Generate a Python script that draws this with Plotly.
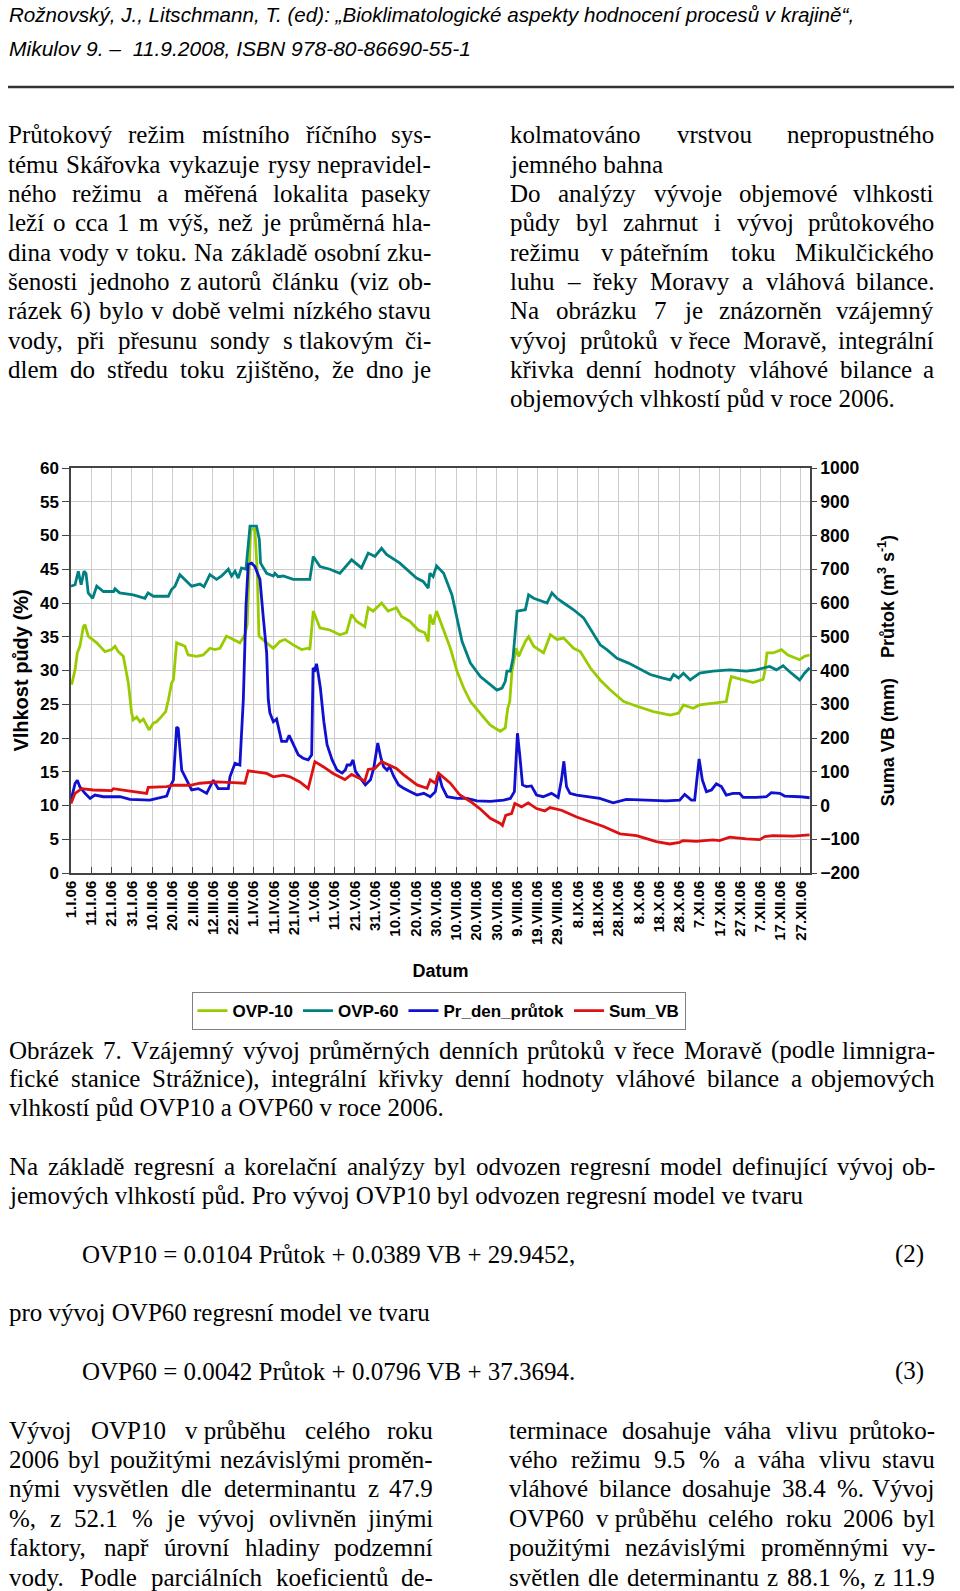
import unicodedata
import plotly.graph_objects as go

# ---------------- data ----------------
tick_days = list(range(0, 361, 10))
tick_labels = ["1.I.06", "11.I.06", "21.I.06", "31.I.06", "10.II.06", "20.II.06", "2.III.06",
               "12.III.06", "22.III.06", "1.IV.06", "11.IV.06", "21.IV.06", "1.V.06", "11.V.06",
               "21.V.06", "31.V.06", "10.VI.06", "20.VI.06", "30.VI.06", "10.VII.06", "20.VII.06",
               "30.VII.06", "9.VIII.06", "19.VIII.06", "29.VIII.06", "8.IX.06", "18.IX.06",
               "28.IX.06", "8.X.06", "18.X.06", "28.X.06", "7.XI.06", "17.XI.06", "27.XI.06",
               "7.XII.06", "17.XII.06", "27.XII.06"]

# OVP-10 soil moisture (%), day of year 2006 (0 = 1.I.)
ovp10_day = [0.3, 2, 3.1, 4.4, 6.1, 6.9, 8.5, 12.7, 16.8, 20, 21.7, 23.3, 25.8, 27.4, 28.3, 29.9, 30.7,
             32.4, 34, 35.7, 38.5, 40.6, 42.2, 44.7, 46.7, 48, 49.6, 50.5, 52.1, 54.6, 56.2, 57.8, 62,
             65.2, 68.5, 71, 73.5, 76.7, 80, 83.3, 85.8, 86.9, 88.6, 90.7, 91.9, 92.7, 96.5, 99.8, 103,
             105.5, 109.6, 113.7, 117, 117.8, 119.5, 122.8, 127.7, 132.6, 135.9, 138.4, 140.8, 144.9,
             146.6, 149, 153.2, 156.4, 160.5, 163, 167.1, 171.2, 174.5, 176.2, 177, 178.6, 180.3,
             183.8, 187.1, 190.4, 193.7, 197, 201.9, 206.8, 211.7, 214.2, 215.4, 216.4, 217.5, 219.6,
             220.8, 224.1, 225.7, 228.2, 233.1, 236.4, 239.7, 243, 247.9, 251.2, 256.1, 261, 266,
             272.6, 279.1, 287.3, 295.6, 299.7, 302.1, 306.8, 310.1, 316.7, 323.2, 324.9, 325.7,
             331.5, 336.4, 341.4, 342.2, 343.3, 346.3, 350.4, 353.6, 359.4, 361.8, 364.3]
ovp10_val = [27.9, 30.1, 32.6, 33.6, 36.5, 36.8, 35.1, 34.1, 32.8, 33.1, 33.6, 32.8, 32.1, 29.6, 28.1,
             23.7, 22.7, 23.1, 22.4, 22.8, 21.2, 22.2, 22.4, 23.2, 23.9, 25.6, 28.1, 28.6, 34.1, 33.8,
             33.6, 32.3, 32.1, 32.3, 33.3, 33.1, 33.3, 35.1, 34.6, 34.1, 35.3, 36.8, 50.9, 50.9, 44.4,
             35.1, 34.1, 33.3, 34.3, 34.6, 33.8, 33.1, 33.3, 33.1, 38.8, 36.3, 36.0, 35.3, 35.6, 38.3,
             37.3, 36.5, 39.3, 38.8, 40.0, 38.8, 39.3, 38.0, 37.3, 36.0, 35.6, 34.3, 38.3, 36.8, 38.8,
             36.0, 33.3, 29.9, 27.4, 25.4, 23.7, 21.9, 21.0, 21.5, 24.4, 25.4, 29.9, 33.3, 32.1, 34.3,
             35.0, 33.6, 32.6, 35.3, 34.6, 34.8, 33.3, 32.8, 30.4, 28.6, 27.1, 25.4, 24.7, 23.9, 23.4,
             23.7, 24.9, 24.4, 24.9, 25.1, 25.4, 28.1, 29.1, 28.6, 28.2, 28.7, 29.9, 32.6, 32.6, 33.1,
             32.3, 31.6, 32.1, 32.3]

# OVP-60 soil moisture (%)
ovp60_day = [0, 2, 3.6, 5, 6.4, 7.4, 8.5, 10.7, 12.7, 16, 21, 21.7, 24, 30.7, 36.5, 38, 40.6, 48, 49.6,
             51.3, 53.7, 57, 59.5, 63.6, 65.6, 68.5, 71.8, 74.3, 77.6, 79.2, 80.9, 82.5, 84.1, 86.3,
             88.3, 91.5, 92.9, 93.5, 96.5, 99.8, 100.6, 102.2, 104.7, 109.6, 117.8, 119.5, 122.8,
             127.7, 132.6, 138.4, 143.3, 146.6, 149.9, 153.2, 155.6, 162.2, 170.4, 173.7, 176.2, 177,
             178.6, 180.3, 183.8, 187.9, 190.4, 192.9, 197, 201.9, 206.8, 210.1, 212.6, 214.2, 215,
             216.7, 218, 220, 224.1, 225.7, 228.2, 234.8, 237.2, 239.7, 243, 247.9, 252.8, 257.8, 261,
             264.3, 269.3, 275, 279.1, 285.7, 291.5, 295.6, 297.2, 299.7, 302.1, 305.4, 310.1, 316.7,
             324.9, 333.1, 338, 344.6, 347.9, 351.2, 355.3, 359.4, 361.8, 364.3]
ovp60_val = [42.5, 42.7, 44.7, 42.7, 44.7, 44.4, 41.5, 40.7, 42.5, 41.7, 41.7, 42.1, 41.5, 41.2, 40.7,
             41.5, 41.0, 41.0, 42.0, 42.5, 44.2, 43.2, 42.5, 42.8, 42.4, 44.2, 43.5, 44.0, 45.0, 44.0,
             44.7, 43.7, 45.2, 45.0, 51.4, 51.4, 49.4, 45.9, 44.4, 44.0, 44.4, 43.9, 44.0, 43.5, 43.5,
             46.9, 45.4, 45.0, 44.4, 46.4, 45.2, 47.4, 46.9, 48.1, 47.2, 45.9, 43.7, 43.2, 42.2, 44.4,
             43.9, 45.5, 44.4, 41.2, 37.8, 34.3, 31.1, 29.1, 27.9, 27.1, 27.4, 28.4, 29.9, 29.9, 31.8,
             38.8, 39.0, 41.2, 40.7, 40.0, 41.5, 40.7, 40.0, 39.0, 37.8, 35.3, 33.8, 33.1, 31.8, 31.1,
             30.4, 29.4, 28.9, 28.6, 29.4, 28.9, 29.6, 28.6, 29.6, 29.9, 30.1, 29.9, 30.1, 30.6, 30.1,
             30.7, 29.6, 28.6, 29.6, 30.4]

# Pr_den_průtok - mean daily discharge (m3/s), right axis
flow_day = [0, 2, 3.1, 4.4, 6.9, 9.4, 11.8, 15.9, 24.2, 29.1, 38.9, 43.9, 47.2, 48.8, 50.5, 52.1, 52.9,
            54.6, 56.2, 57.8, 59.5, 62.8, 66.9, 70.2, 72.6, 77.6, 78.4, 80.9, 83.3, 85, 86.3, 87.4,
            89.1, 90.7, 93.2, 94.8, 96.5, 97.3, 98.1, 99.8, 101.4, 103.9, 106.3, 107.6, 109.6, 112.1,
            114.5, 117, 118.7, 119.4, 120.3, 121.1, 121.9, 123, 124.7, 126.3, 128.8, 131.2, 133.7,
            135.3, 136.2, 137.8, 139.1, 140.3, 142.7, 145.2, 147.7, 149.3, 151.3, 152.9, 154.2, 155.9,
            157.2, 159.2, 161.6, 164.1, 167.4, 170.7, 174, 177.2, 179.7, 181.3, 183, 185.5, 190.4,
            195.3, 200.2, 206.8, 213.4, 216.7, 218.7, 220.2, 221.4, 222.7, 224.6, 227.1, 229.6, 232.9,
            237, 240.3, 241.9, 243.1, 244.4, 246.1, 249.4, 254.3, 260.8, 267.4, 273.9, 283.8, 293.6,
            300.2, 302.7, 306, 307.6, 309.8, 311.4, 313.4, 315.9, 318.3, 320.8, 323.2, 326.5, 329.8,
            331.5, 338, 343, 345.4, 349.6, 352, 356.1, 359.4, 364.3]
flow_val = [16, 65, 75, 55, 36, 21, 31, 26, 26, 18, 16, 24, 28, 55, 75, 232, 228, 105, 85, 70, 46, 50,
            36, 75, 50, 50, 85, 125, 120, 314, 590, 714, 718, 708, 670, 560, 452, 314, 274, 248, 256,
            190, 190, 208, 184, 150, 140, 135, 150, 407, 402, 420, 392, 348, 249, 180, 135, 105, 96,
            105, 120, 120, 135, 101, 81, 61, 76, 110, 185, 140, 115, 105, 115, 86, 61, 51, 41, 31, 36,
            26, 41, 96, 56, 26, 21, 21, 14, 12, 16, 21, 41, 214, 146, 61, 56, 58, 31, 26, 36, 24, 76,
            131, 56, 36, 31, 26, 21, 8, 18, 16, 14, 16, 33, 16, 16, 138, 76, 41, 46, 64, 56, 31, 36,
            36, 24, 24, 26, 38, 36, 28, 28, 26, 23]

# Sum_VB - integral curve of daily water balance (mm), right axis
vb_day = [0, 2, 5.3, 11, 20, 20.9, 27.4, 37.3, 38.1, 47.2, 50.5, 58.7, 63.6, 71.8, 80, 85.8, 87.4, 91.5,
          96.5, 99.8, 104.7, 108, 112.9, 117, 120.3, 124.4, 129.3, 135.1, 138.4, 142.5, 144.9, 146.6,
          149.9, 153.2, 160.5, 164.1, 170.7, 175.6, 177.2, 179.7, 181.3, 187.1, 191.8, 197, 201.6,
          206.8, 211.7, 212.8, 214.4, 217.3, 218.9, 222.2, 225.5, 229.6, 233.7, 236.2, 241.9, 249.4,
          256.1, 262.7, 270.8, 279, 288.7, 295.3, 300.2, 301.8, 308.4, 316.6, 319.9, 324.9, 333.1,
          339.7, 342.2, 346.3, 356.1, 361, 364.3]
vb_val = [6, 36, 50, 46, 44, 50, 44, 36, 54, 56, 60, 60, 66, 70, 68, 66, 103, 100, 95, 85, 90, 85, 70,
          50, 130, 115, 95, 77, 92, 80, 72, 107, 110, 130, 110, 91, 61, 51, 76, 66, 96, 66, 31, 12, -9,
          -38, -53, -59, -29, -24, 6, -4, 8, -9, -16, -6, -14, -34, -48, -62, -84, -89, -107, -114,
          -109, -104, -106, -102, -104, -94, -99, -101, -92, -89, -91, -89, -87]

series_names = ["OVP-10", "OVP-60", "Pr_den_průtok", "Sum_VB"]

# ---------------- page text ----------------
header_lines = ["Rožnovský, J., Litschmann, T. (ed): „Bioklimatologické aspekty hodnocení procesů v krajině“,",
                "Mikulov 9. –  11.9.2008, ISBN 978-80-86690-55-1"]

top_left = [
    ("Průtokový režim místního říčního sys-", True),
    ("tému Skářovka vykazuje rysy nepravidel-", True),
    ("ného režimu a měřená lokalita paseky", True),
    ("leží o cca 1 m výš, než je průměrná hla-", True),
    ("dina vody v toku. Na základě osobní zku-", True),
    ("šenosti jednoho z\u00a0autorů článku (viz ob-", True),
    ("rázek 6) bylo v době velmi nízkého stavu", True),
    ("vody, při přesunu sondy s\u00a0tlakovým či-", True),
    ("dlem do středu toku zjištěno, že dno je", True),
]
top_right = [
    ("kolmatováno vrstvou nepropustného", True),
    ("jemného bahna", False),
    ("Do analýzy vývoje objemové vlhkosti", True),
    ("půdy byl zahrnut i vývoj průtokového", True),
    ("režimu v\u00a0páteřním toku Mikulčického", True),
    ("luhu – řeky Moravy a vláhová bilance.", True),
    ("Na obrázku 7 je znázorněn vzájemný", True),
    ("vývoj průtoků v\u00a0řece Moravě, integrální", True),
    ("křivka denní hodnoty vláhové bilance a", True),
    ("objemových vlhkostí půd v roce 2006.", False),
]
caption = [
    ("Obrázek 7. Vzájemný vývoj průměrných denních průtoků v\u00a0řece Moravě (podle limnigra-", True),
    ("fické stanice Strážnice), integrální křivky denní hodnoty vláhové bilance a objemových", True),
    ("vlhkostí půd OVP10 a OVP60 v roce 2006.", False),
]
paragraph = [
    ("Na základě regresní a korelační analýzy byl odvozen regresní model definující vývoj ob-", True),
    ("jemových vlhkostí půd. Pro vývoj OVP10 byl odvozen regresní model ve tvaru", False),
]
eq2 = "OVP10 = 0.0104 Průtok + 0.0389 VB + 29.9452,"
eq3 = "OVP60 = 0.0042 Průtok + 0.0796 VB + 37.3694."
eq_mid = "pro vývoj OVP60 regresní model ve tvaru"
bottom_left = [
    ("Vývoj OVP10 v\u00a0průběhu celého roku", True),
    ("2006 byl použitými nezávislými proměn-", True),
    ("nými vysvětlen dle determinantu z 47.9", True),
    ("%, z 52.1 % je vývoj ovlivněn jinými", True),
    ("faktory, např úrovní hladiny podzemní", True),
    ("vody. Podle parciálních koeficientů de-", True),
]
bottom_right = [
    ("terminace dosahuje váha vlivu průtoko-", True),
    ("vého režimu 9.5 % a váha vlivu stavu", True),
    ("vláhové bilance dosahuje 38.4 %. Vývoj", True),
    ("OVP60 v\u00a0průběhu celého roku 2006 byl", True),
    ("použitými nezávislými proměnnými vy-", True),
    ("světlen dle determinantu z 88.1 %, z 11.9", True),
]

# ---------------- geometry helpers ----------------
W, H = 960, 1591      # figure fills the whole page (body margin removed below)


def px(X):
    return X / W


def py(Y):
    return 1 - Y / H


SERIF = "Liberation Serif, Times New Roman, serif"
SANS = "Arial, Liberation Sans, sans-serif"
FS = 25
TIMES = {' ': 250, '!': 333, '%': 833, '(': 333, ')': 333, '+': 564, ',': 250, '-': 333, '.': 250,
         ':': 278, '=': 564, '–': 500, '\u00a0': 250,
         'A': 722, 'B': 667, 'C': 667, 'D': 722, 'E': 611, 'F': 556, 'G': 722, 'H': 722, 'I': 333,
         'J': 389, 'K': 722, 'L': 611, 'M': 889, 'N': 722, 'O': 722, 'P': 556, 'Q': 722, 'R': 667,
         'S': 556, 'T': 611, 'U': 722, 'V': 722, 'W': 944, 'X': 722, 'Y': 722, 'Z': 611,
         'a': 444, 'b': 500, 'c': 444, 'd': 500, 'e': 444, 'f': 333, 'g': 500, 'h': 500, 'i': 278,
         'j': 278, 'k': 500, 'l': 278, 'm': 778, 'n': 500, 'o': 500, 'p': 500, 'q': 500, 'r': 333,
         's': 389, 't': 278, 'u': 500, 'v': 500, 'w': 722, 'x': 500, 'y': 500, 'z': 444}


def text_width(s):
    w = 0
    for ch in s:
        if ch in TIMES:
            w += TIMES[ch]
        else:
            w += TIMES.get(unicodedata.normalize('NFD', ch)[0], 500)
    return w * FS / 1000


annotations = []


def put(xp, yc, t, anchor='left', size=FS, family=SERIF, **fontkw):
    annotations.append(dict(x=px(xp), y=py(yc), xref='paper', yref='paper', text=t,
                            showarrow=False, xanchor=anchor, yanchor='middle', borderpad=0,
                            font=dict(family=family, size=size, color='#000000', **fontkw)))


def text_line(text, x0, x1, yc, justify):
    words = text.split(' ')
    if not justify or len(words) < 2:
        put(x0, yc, text)
        return
    widths = [text_width(w) for w in words]
    gap = (x1 - x0 - sum(widths)) / (len(words) - 1)
    x = x0
    for i, (w, wd) in enumerate(zip(words, widths)):
        if i == len(words) - 1:
            put(x1, yc, w, anchor='right')
        else:
            put(x, yc, w)
        x += wd + gap


def block(lines, x0, x1, y0, dy):
    for i, (t, j) in enumerate(lines):
        text_line(t, x0, x1, y0 + i * dy, j)


# header
put(8, 15, header_lines[0], size=20.6, family=SANS, style='italic')
put(8, 48, header_lines[1], size=21, family=SANS, style='italic')

block(top_left, 7, 432, 135, 29.33)
block(top_right, 509, 935, 135, 29.33)
block(caption, 8, 936, 1050, 28.6)
block(paragraph, 8, 936, 1166, 29.0)
put(81, 1254, eq2)
put(925, 1254, "(2)", anchor='right')
put(8, 1312, eq_mid)
put(81, 1371, eq3)
put(925, 1371, "(3)", anchor='right')
block(bottom_left, 8, 434, 1430, 29.4)
block(bottom_right, 508, 936, 1430, 29.4)

# ---------------- chart ----------------
colors = ["#99CC00", "#008080", "#1010D0", "#DD1111"]
fig = go.Figure()
fig.add_trace(go.Scatter(x=ovp10_day, y=ovp10_val, name=series_names[0], mode='lines',
                         line=dict(color=colors[0], width=2.8)))
fig.add_trace(go.Scatter(x=ovp60_day, y=ovp60_val, name=series_names[1], mode='lines',
                         line=dict(color=colors[1], width=2.8)))
fig.add_trace(go.Scatter(x=flow_day, y=flow_val, name=series_names[2], mode='lines', yaxis='y2',
                         line=dict(color=colors[2], width=2.8)))
fig.add_trace(go.Scatter(x=vb_day, y=vb_val, name=series_names[3], mode='lines', yaxis='y2',
                         line=dict(color=colors[3], width=2.8)))

BOLD = dict(family=SANS, weight='bold', color='#000000')

fig.update_layout(
    width=W, height=H,
    margin=dict(l=0, r=0, t=0, b=0),
    paper_bgcolor='white', plot_bgcolor='white',
    showlegend=True,
    xaxis=dict(domain=[px(71), px(810)], range=[0, 364.5], tickmode='array', tickvals=tick_days,
               ticktext=tick_labels, tickangle=-90, ticks='inside', ticklen=6, tickcolor='#444444',
               showline=True, linecolor='#444444', linewidth=1.5, mirror=True,
               showgrid=True, gridcolor='#CCCCCC', gridwidth=1, zeroline=False,
               tickfont=dict(size=15, **BOLD), automargin=False,
               title=dict(text='Datum', font=dict(size=18, **BOLD), standoff=20)),
    yaxis=dict(domain=[py(873), py(468)], range=[0, 60], dtick=5, ticks='outside', ticklen=7,
               tickcolor='#444444', showline=True, linecolor='#444444', linewidth=1.5,
               showgrid=True, gridcolor='#CCCCCC', gridwidth=1, zeroline=False,
               tickfont=dict(size=17, **BOLD), automargin=False,
               title=dict(text='Vlhkost půdy (%)', font=dict(size=20, **BOLD), standoff=6)),
    yaxis2=dict(overlaying='y', side='right', anchor='x', range=[-200, 1000], dtick=100,
                ticks='outside', ticklen=5, tickcolor='#444444', showline=True,
                linecolor='#444444', linewidth=1.5, showgrid=False, zeroline=False,
                tickfont=dict(size=17.5, **BOLD), automargin=False,
                title=dict(text='Suma VB (mm)\u00a0\u00a0\u00a0 Průtok (m<sup>3</sup> s<sup>-1</sup>)',
                           font=dict(size=18, **BOLD), standoff=22)),
    legend=dict(orientation='h', x=px(438.5), xanchor='center', y=py(1011), yanchor='middle',
                bordercolor='#7F7F7F', borderwidth=1, bgcolor='white',
                font=dict(size=17, **BOLD)),
    annotations=annotations,
    shapes=[dict(type='line', xref='paper', yref='paper', x0=px(8), x1=px(954), y0=py(87),
                 y1=py(87), line=dict(color='#333333', width=2.5))],
)

fig.write_html("out.html", config={"displayModeBar": False},
               post_script="document.body.style.margin='0px';document.body.style.overflow='hidden';")
